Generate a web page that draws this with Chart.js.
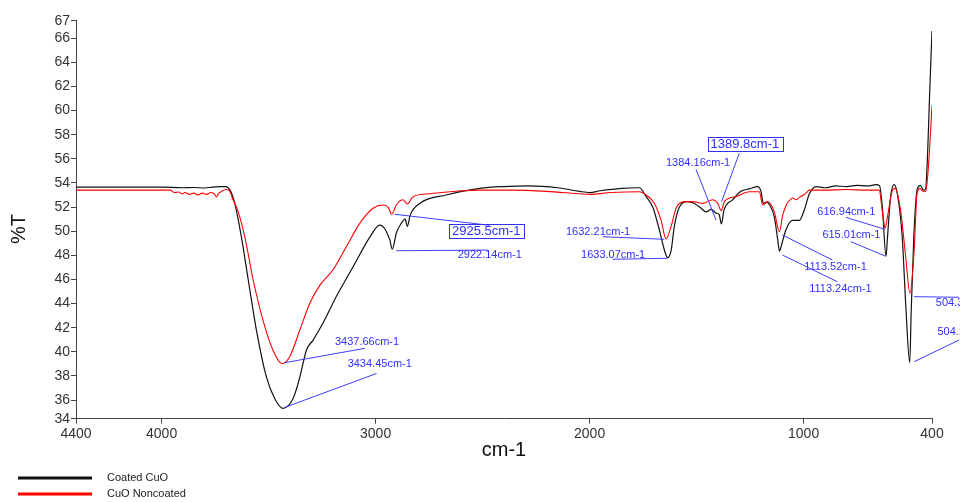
<!DOCTYPE html>
<html>
<head>
<meta charset="utf-8">
<script src="https://cdn.jsdelivr.net/npm/chart.js@4.4.1/dist/chart.umd.min.js"></script>
<style>
  html, body { margin: 0; padding: 0; background: #fff; }
  #wrap { width: 960px; height: 502px; }
</style>
</head>
<body>
<div id="wrap"><canvas id="ftir" width="960" height="502"></canvas></div>
<script>
// FTIR spectra, wavenumber (cm-1) vs transmittance (%T)
const coatedWn = [4400, 4200, 4000, 3900, 3850, 3800, 3760, 3720, 3700, 3680, 3658, 3627, 3595, 3557, 3510, 3471, 3434, 3386, 3354, 3323, 3292, 3245, 3183, 3105, 3027, 2981, 2957, 2934, 2922, 2903, 2880, 2862, 2852, 2838, 2794, 2670, 2514, 2400, 2281, 2150, 2047, 2000, 1950, 1850, 1767, 1736, 1705, 1674, 1650, 1635, 1619, 1604, 1580, 1542, 1510, 1479, 1456, 1432, 1409, 1395, 1384, 1372, 1332, 1293, 1254, 1215, 1199, 1188, 1175, 1160, 1137, 1121, 1113, 1101, 1083, 1052, 1020, 997, 973, 942, 900, 850, 800, 750, 700, 662, 645, 631, 615, 608, 593, 577, 562, 539, 523, 504, 497, 485, 470, 454, 440, 430, 420, 412, 400];
const coatedT = [53.65, 53.65, 53.65, 53.6, 53.62, 53.58, 53.65, 53.7, 53.7, 53.4, 52.3, 49.5, 45.95, 41.8, 37.9, 36.1, 35.3, 36.1, 37.9, 40.15, 40.97, 42.4, 44.6, 47.05, 49.5, 50.5, 50.2, 49.3, 48.5, 49.85, 50.65, 51.0, 50.4, 51.35, 52.3, 53.0, 53.55, 53.7, 53.75, 53.6, 53.3, 53.2, 53.35, 53.55, 53.6, 52.86, 52.0, 50.1, 48.4, 47.8, 48.4, 50.4, 52.0, 52.44, 52.3, 51.9, 51.6, 51.8, 51.5, 51.4, 50.6, 51.75, 52.6, 53.3, 53.5, 53.7, 53.3, 52.3, 52.4, 52.2, 51.2, 49.3, 48.35, 49.0, 50.1, 50.9, 50.9, 51.75, 53.1, 53.7, 53.6, 53.75, 53.7, 53.8, 53.75, 53.85, 53.75, 51.75, 47.9, 49.5, 52.9, 53.85, 53.1, 49.5, 44.0, 39.1, 43.5, 49.5, 53.4, 53.8, 53.4, 53.5, 56.7, 60.9, 66.6];

const noncoatedWn = [4400, 4200, 4000, 3960, 3940, 3920, 3905, 3890, 3870, 3850, 3830, 3810, 3790, 3770, 3755, 3743, 3735, 3720, 3700, 3685, 3666, 3642, 3611, 3572, 3526, 3479, 3437, 3401, 3354, 3308, 3261, 3199, 3137, 3074, 3012, 2965, 2940, 2925, 2903, 2872, 2852, 2825, 2747, 2592, 2514, 2359, 2200, 2047, 2000, 1900, 1767, 1736, 1697, 1666, 1643, 1619, 1596, 1557, 1518, 1471, 1425, 1401, 1385, 1370, 1316, 1254, 1207, 1191, 1168, 1137, 1113, 1098, 1085, 1074, 1062, 1051, 1035, 1020, 1000, 981, 973, 900, 800, 700, 647, 631, 619, 608, 585, 573, 547, 523, 503, 484, 470, 457, 439, 430, 420, 410, 400];
const noncoatedT = [53.4, 53.4, 53.4, 53.4, 53.2, 53.25, 53.1, 53.2, 53.05, 53.15, 53.0, 53.15, 53.05, 53.2, 53.1, 52.85, 53.1, 53.3, 53.45, 53.4, 52.6, 51.6, 49.5, 45.95, 42.6, 40.1, 39.0, 39.6, 41.8, 44.0, 45.5, 46.8, 48.7, 50.65, 51.9, 52.17, 51.95, 51.4, 52.17, 52.6, 52.25, 52.86, 53.1, 53.35, 53.4, 53.4, 53.3, 53.1, 53.05, 53.2, 53.27, 53.0, 52.3, 50.9, 49.35, 50.4, 51.9, 52.45, 52.45, 52.3, 52.6, 52.3, 51.7, 52.45, 52.86, 53.27, 53.27, 52.17, 52.45, 51.6, 49.95, 51.3, 52.0, 52.4, 52.6, 52.75, 52.6, 52.8, 53.0, 53.3, 53.4, 53.4, 53.45, 53.4, 53.4, 51.5, 50.25, 51.2, 53.4, 53.55, 51.75, 47.9, 44.85, 48.2, 53.1, 53.55, 53.27, 53.3, 54.6, 57.2, 60.4];

const xTicks = [4400, 4000, 3000, 2000, 1000, 400];
const yTicks = [34.45, 36, 38, 40, 42, 44, 46, 48, 50, 52, 54, 56, 58, 60, 62, 64, 66, 67.45];
const yTickLabels = ['34', '36', '38', '40', '42', '44', '46', '48', '50', '52', '54', '56', '58', '60', '62', '64', '66', '67'];

const peakText = ['3437.66cm-1', '3434.45cm-1', '2925.5cm-1', '2922.14cm-1', '1389.8cm-1', '1384.16cm-1', '1632.21cm-1', '1633.07cm-1', '1113.52cm-1', '1113.24cm-1', '616.94cm-1', '615.01cm-1', '504.38cm-1', '504.16cm-1'];
const peakWn = [3437.66, 3434.45, 2925.5, 2922.14, 1389.8, 1384.16, 1632.21, 1633.07, 1113.52, 1113.24, 616.94, 615.01, 504.38, 504.16];
const peakT = [39.0, 35.3, 51.4, 48.5, 51.7, 50.6, 49.35, 47.8, 49.95, 48.35, 50.25, 47.9, 44.85, 39.1];

// leader line start / end and label offset from the peak, in px; boxed labels are larger
const peakLayout = [
  { s: [2, -1], e: [83, -15.5], t: [53, -22] },
  { s: [2, -1], e: [94, -35], t: [65, -44] },
  { s: [3, 0], e: [98, 11], t: [60.4, 17], box: true },
  { s: [4, 1.5], e: [95.7, 0.8], t: [65.4, 5.8] },
  { s: [1.4, -9], e: [19.1, -57.4], t: [-9.6, -66.2], box: true },
  { s: [-5.4, -3.9], e: [-25.4, -54.6], t: [-55.4, -60.6] },
  { s: [-4, 0.3], e: [-65.7, -2.3], t: [-102.3, -7.3] },
  { s: [-0.5, 0.6], e: [-55.5, 1.6], t: [-87.1, -2.7] },
  { s: [3.2, 3.3], e: [53.2, 28.3], t: [24.9, 35] },
  { s: [3.1, 4], e: [58.1, 30.7], t: [29.8, 38.3] },
  { s: [-0.5, 1.2], e: [-39.8, -10.8], t: [-68.2, -15.8] },
  { s: [-0.9, -0.5], e: [-35.2, -14.8], t: [-63.6, -21.5] },
  { s: [4.4, 3.4], e: [49.4, 4], t: [26.1, 10] },
  { s: [4.4, -0.9], e: [49.4, -22.6], t: [27.7, -30.3] }
];

const seriesNames = ['Coated CuO', 'CuO Noncoated'];
const seriesColors = ['#111111', '#ff0000'];

const FONT = '"Liberation Sans", Arial, sans-serif';

const peakPlugin = {
  id: 'peaks',
  afterDatasetsDraw(chart) {
    const { ctx, scales: { x, y } } = chart;
    ctx.save();
    peakText.forEach((label, i) => {
      const o = peakLayout[i];
      const ax = x.getPixelForValue(peakWn[i]);
      const ay = y.getPixelForValue(peakT[i]);
      ctx.strokeStyle = '#3d3dff';
      ctx.lineWidth = 1;
      ctx.beginPath();
      ctx.moveTo(ax + o.s[0], ay + o.s[1]);
      ctx.lineTo(ax + o.e[0], ay + o.e[1]);
      ctx.stroke();

      ctx.font = (o.box ? '13px ' : '11px ') + FONT;
      ctx.fillStyle = '#2f2fff';
      ctx.textAlign = 'left';
      ctx.textBaseline = 'middle';
      const tx = ax + o.t[0], ty = ay + o.t[1];
      ctx.fillText(label, tx, ty);
      if (o.box) {
        const w = ctx.measureText(label).width;
        ctx.strokeStyle = '#2f2fff';
        ctx.strokeRect(Math.round(tx - 3) + 0.5, Math.round(ty - 7) + 0.5, Math.round(w + 6), 14);
      }
    });
    ctx.restore();
  },
  afterDraw(chart) {
    const ctx = chart.ctx;
    ctx.save();
    // axis titles
    ctx.fillStyle = '#111';
    ctx.font = '20px ' + FONT;
    ctx.textAlign = 'center';
    ctx.textBaseline = 'middle';
    const area = chart.chartArea;
    ctx.fillText('cm-1', (area.left + area.right) / 2, 450);
    ctx.save();
    ctx.translate(19, 229);
    ctx.rotate(-Math.PI / 2);
    ctx.fillText('%T', 0, 0);
    ctx.restore();
    // legend
    ctx.font = '11px ' + FONT;
    ctx.textAlign = 'left';
    seriesNames.forEach((name, i) => {
      const ly = 478 + i * 16;
      ctx.strokeStyle = seriesColors[i];
      ctx.lineWidth = 3;
      ctx.beginPath();
      ctx.moveTo(18, ly);
      ctx.lineTo(92, ly);
      ctx.stroke();
      ctx.fillStyle = '#222';
      ctx.fillText(name, 107, ly);
    });
    ctx.restore();
  }
};

const toPoints = (wn, t) => wn.map((v, i) => ({ x: v, y: t[i] }));

new Chart(document.getElementById('ftir'), {
  type: 'line',
  data: {
    datasets: [
      { label: seriesNames[0], data: toPoints(coatedWn, coatedT), borderColor: seriesColors[0], borderWidth: 1.2, pointRadius: 0, cubicInterpolationMode: 'monotone', order: 1 },
      { label: seriesNames[1], data: toPoints(noncoatedWn, noncoatedT), borderColor: seriesColors[1], borderWidth: 1.1, pointRadius: 0, cubicInterpolationMode: 'monotone', order: 0 }
    ]
  },
  options: {
    responsive: false,
    animation: false,
    devicePixelRatio: 1,
    layout: { padding: { top: 20.7, right: 28, bottom: 0, left: 0 } },
    plugins: { legend: { display: false }, tooltip: { enabled: false } },
    scales: {
      x: {
        type: 'linear',
        reverse: true,
        min: 400,
        max: 4400,
        afterBuildTicks: s => { s.ticks = xTicks.map(v => ({ value: v })); },
        afterFit: s => { s.height = 83.3; },
        ticks: { color: '#333', font: { family: FONT, size: 14 }, padding: 2, maxRotation: 0, autoSkip: false,
          callback: v => String(v) },
        grid: { display: true, drawOnChartArea: false, drawTicks: true, tickLength: 5, color: '#444' },
        border: { display: true, color: '#444', width: 1 }
      },
      y: {
        type: 'linear',
        min: 34.45,
        max: 67.45,
        afterBuildTicks: s => { s.ticks = yTicks.map(v => ({ value: v })); },
        afterFit: s => { s.width = 76; },
        ticks: {
          color: '#333', font: { family: FONT, size: 14 }, padding: 1, autoSkip: false,
          callback: (v, i) => yTickLabels[i]
        },
        grid: { display: true, drawOnChartArea: false, drawTicks: true, tickLength: 5, color: '#444' },
        border: { display: true, color: '#444', width: 1 }
      }
    }
  },
  plugins: [peakPlugin]
});
</script>
</body>
</html>
